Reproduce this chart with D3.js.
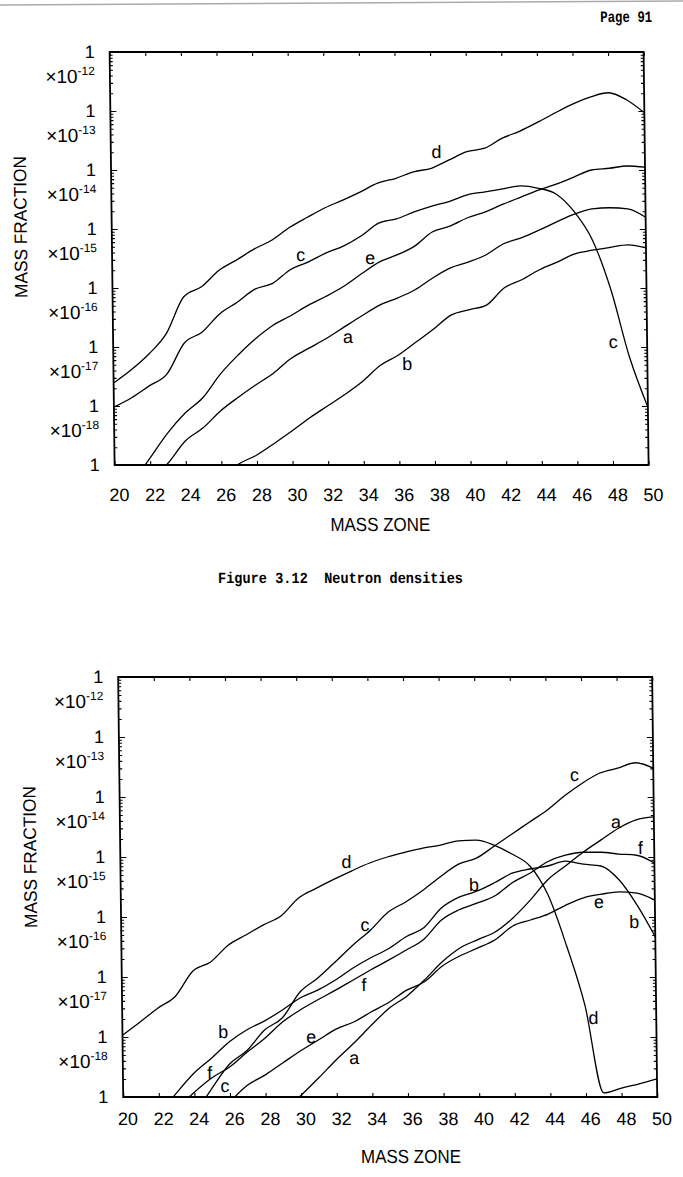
<!DOCTYPE html>
<html>
<head>
<meta charset="utf-8">
<script src="https://cdn.jsdelivr.net/npm/d3@7"></script>
<style>
  body { margin: 0; background: #fff; }
  svg { display: block; }
</style>
</head>
<body>
<svg id="page" width="683" height="1177"></svg>
<script>
// mass zones on the x axis
const zones = [20, 21, 22, 23, 24, 25, 26, 27, 28, 29, 30, 31, 32, 33, 34, 35, 36, 37, 38, 39, 40,
  41, 42, 43, 44, 45, 46, 47, 48, 49, 50];
const xTicks = [20, 22, 24, 26, 28, 30, 32, 34, 36, 38, 40, 42, 44, 46, 48, 50];
const decades = [1e-12, 1e-13, 1e-14, 1e-15, 1e-16, 1e-17, 1e-18, 1e-19];
const expLabels = ["-12", "-13", "-14", "-15", "-16", "-17", "-18"];

// Figure 3.12 (top) - neutron densities, one value per zone (null = off the plot)
const topA = [null, null, 5.37e-20, 1.07e-19, 2.57e-19, 4.27e-19, 8.32e-19, 1.41e-18, 2.29e-18, 3.63e-18,
  6.46e-18, 9.55e-18, 1.41e-17, 2.19e-17, 3.39e-17, 5.13e-17, 6.76e-17, 9.33e-17, 1.48e-16, 2.19e-16,
  2.75e-16, 3.63e-16, 5.62e-16, 7.08e-16, 9.55e-16, 1.32e-15, 1.78e-15, 2.19e-15, 2.29e-15, 2.19e-15, 1.58e-15];
const topB = [null, null, null, null, null, null, 6.31e-20, 1.05e-19, 1.48e-19, 2.34e-19,
  3.80e-19, 6.31e-19, 1.0e-18, 1.58e-18, 2.63e-18, 4.90e-18, 7.24e-18, 1.20e-17, 2.0e-17, 3.47e-17,
  4.27e-17, 5.13e-17, 1.0e-16, 1.38e-16, 2.04e-16, 2.75e-16, 3.80e-16, 4.37e-16, 4.90e-16, 5.37e-16, 4.79e-16];
const topC = [9.55e-19, 1.38e-18, 2.19e-18, 3.47e-18, 1.17e-17, 1.78e-17, 3.63e-17, 5.75e-17, 9.55e-17, 1.20e-16,
  2.04e-16, 2.75e-16, 3.89e-16, 5.13e-16, 7.59e-16, 1.26e-15, 1.48e-15, 1.95e-15, 2.45e-15, 2.95e-15,
  3.80e-15, 4.27e-15, 4.79e-15, 5.37e-15, 4.90e-15, 3.89e-15, 1.95e-15, 6.46e-16, 9.33e-17, 6.76e-18, 9.55e-19];
const topD = [2.45e-18, 4.1e-18, 7.6e-18, 1.7e-17, 7.1e-17, 1.05e-16, 2.0e-16, 3.0e-16, 4.6e-16, 6.5e-16,
  1.07e-15, 1.58e-15, 2.29e-15, 3.09e-15, 4.27e-15, 6.03e-15, 7.24e-15, 9.33e-15, 1.07e-14, 1.48e-14,
  2.04e-14, 2.34e-14, 3.47e-14, 4.57e-14, 6.46e-14, 9.33e-14, 1.32e-13, 1.74e-13, 2.04e-13, 1.55e-13, 9.33e-14];
const topE = [null, 5.01e-20, 1.32e-19, 3.47e-19, 7.59e-19, 1.38e-18, 3.47e-18, 7.24e-18, 1.38e-17, 2.34e-17,
  3.39e-17, 5.13e-17, 7.24e-17, 1.07e-16, 1.74e-16, 2.75e-16, 3.63e-16, 5.13e-16, 8.91e-16, 1.12e-15,
  1.55e-15, 1.95e-15, 2.63e-15, 3.47e-15, 4.57e-15, 5.75e-15, 7.59e-15, 1.0e-14, 1.07e-14, 1.17e-14, 1.12e-14];

// second figure (bottom)
const botA = [null, null, null, null, null, null, null, null, null, 5.62e-20,
  1.07e-19, 2.09e-19, 4.17e-19, 7.94e-19, 1.58e-18, 3.02e-18, 4.79e-18, 8.91e-18, 1.78e-17, 3.02e-17,
  4.17e-17, 5.62e-17, 9.55e-17, 1.91e-16, 4.17e-16, 7.08e-16, 1.20e-15, 1.91e-15, 3.02e-15, 4.17e-15, 4.68e-15];
const botB = [null, null, 5.01e-20, 1.17e-19, 2.51e-19, 4.47e-19, 8.32e-19, 1.32e-18, 1.86e-18, 2.82e-18,
  4.47e-18, 6.03e-18, 8.91e-18, 1.41e-17, 2.09e-17, 2.95e-17, 4.68e-17, 6.61e-17, 1.41e-16, 2.14e-16,
  2.69e-16, 3.72e-16, 5.37e-16, 6.31e-16, 7.08e-16, 8.51e-16, 7.59e-16, 7.08e-16, 4.17e-16, 1.58e-16, 4.68e-17];
const botC = [null, null, null, null, 5.01e-20, 1.41e-19, 3.55e-19, 6.03e-19, 1.32e-18, 2.09e-18,
  5.62e-18, 9.55e-18, 1.78e-17, 3.39e-17, 6.03e-17, 1.20e-16, 1.78e-16, 2.82e-16, 4.79e-16, 7.59e-16,
  9.55e-16, 1.51e-15, 2.40e-15, 3.80e-15, 6.03e-15, 1.05e-14, 1.70e-14, 2.51e-14, 3.02e-14, 3.72e-14, 3.02e-14];
const botD = [1.07e-18, 1.78e-18, 3.02e-18, 4.79e-18, 1.26e-17, 1.78e-17, 3.39e-17, 5.01e-17, 7.41e-17, 1.05e-16,
  2.09e-16, 3.02e-16, 4.27e-16, 5.89e-16, 7.94e-16, 1.0e-15, 1.20e-15, 1.41e-15, 1.58e-15, 1.86e-15,
  1.91e-15, 1.58e-15, 1.12e-15, 7.08e-16, 2.34e-16, 3.39e-17, 3.39e-18, 1.17e-19, 1.41e-19, 1.66e-19, 2.00e-19];
const botE = [null, null, null, null, null, null, 8.32e-20, 1.58e-19, 2.34e-19, 3.72e-19,
  5.89e-19, 8.91e-19, 1.35e-18, 1.78e-18, 2.63e-18, 3.80e-18, 6.03e-18, 8.32e-18, 1.51e-17, 2.24e-17,
  3.02e-17, 4.17e-17, 7.08e-17, 8.91e-17, 1.12e-16, 1.58e-16, 2.09e-16, 2.40e-16, 2.63e-16, 2.51e-16, 1.91e-16];
const botF = [null, null, null, 6.31e-20, 1.20e-19, 2.09e-19, 3.16e-19, 5.62e-19, 9.55e-19, 1.78e-18,
  2.82e-18, 4.17e-18, 6.03e-18, 8.91e-18, 1.32e-17, 1.91e-17, 2.82e-17, 4.27e-17, 8.91e-17, 1.32e-16,
  1.70e-16, 2.24e-16, 3.72e-16, 5.37e-16, 8.32e-16, 1.07e-15, 1.20e-15, 1.20e-15, 1.12e-15, 1.07e-15, 7.94e-16];

// curve labels: [text, zone, mass fraction]
const topLabels = [["d", 38.3, 2.0e-14], ["c", 30.6, 3.6e-16], ["e", 34.5, 3.2e-16],
  ["a", 33.2, 1.5e-17], ["b", 36.5, 5.1e-18], ["c", 48.1, 1.2e-17]];
const botLabels = [["d", 32.7, 8.3e-16], ["c", 33.7, 7.4e-17], ["f", 33.6, 7.4e-18], ["b", 39.85, 3.4e-16],
  ["e", 30.6, 1.0e-18], ["a", 33.0, 4.5e-19], ["b", 25.66, 1.2e-18], ["f", 24.88, 2.5e-19],
  ["c", 25.72, 1.5e-19], ["c", 45.57, 2.3e-14], ["a", 47.87, 3.8e-15], ["f", 49.22, 1.4e-15],
  ["e", 46.86, 1.8e-16], ["b", 48.83, 8.3e-17], ["d", 46.47, 2.1e-18]];

const FONT = "'Liberation Sans', Arial, sans-serif";
const MONO = "'Liberation Mono', 'DejaVu Sans Mono', monospace";
const svg = d3.select("#page");
svg.append("rect").attr("width", 683).attr("height", 1177).attr("fill", "#fff");

// scan edge at the top of the page
svg.append("line").attr("x1", 0).attr("y1", 5).attr("x2", 683).attr("y2", 1)
  .attr("stroke", "#aaa").attr("stroke-width", 1.5);

// the scanned page leans a little: lower parts sit further right
const page = svg.append("g").attr("transform", "skewX(0.69)");

page.append("text").attr("x", 652).attr("y", 22).attr("text-anchor", "end")
  .attr("font-family", MONO).attr("font-weight", "bold").attr("font-size", 16)
  .attr("textLength", 52).attr("lengthAdjust", "spacingAndGlyphs")
  .text("Page 91");

function drawChart(box, series, labels, opt) {
  const x = d3.scaleLinear().domain([20, 50]).range([box.left, box.right]);
  const y = d3.scaleLog().domain([1e-19, 1e-12]).range([box.bottom, box.top]);
  const g = page.append("g");

  const clipId = "clip" + box.top;
  g.append("clipPath").attr("id", clipId).append("rect")
    .attr("x", box.left).attr("y", box.top)
    .attr("width", box.right - box.left).attr("height", box.bottom - box.top);

  const tidy = (sel) => {
    sel.select(".domain").remove();
    sel.selectAll("line").attr("stroke", "#000").attr("stroke-width", 1.1);
  };

  // x ticks, inward on both sides
  g.append("g").attr("transform", `translate(0,${box.bottom})`)
    .call(d3.axisBottom(x).tickValues(xTicks).tickSize(-4).tickPadding(opt.xPad).tickFormat(d3.format("d")))
    .call(tidy)
    .call((a) => a.selectAll("text").attr("x", 4).attr("font-family", FONT).attr("font-size", 18).attr("fill", "#000"));
  g.append("g").attr("transform", `translate(0,${box.top})`)
    .call(d3.axisTop(x).tickValues(xTicks).tickSize(-4).tickFormat(""))
    .call(tidy);

  // log ticks, inward on left and right
  const allTicks = y.ticks();
  g.append("g").attr("transform", `translate(${box.left},0)`)
    .call(d3.axisLeft(y).tickValues(allTicks).tickSize(-3).tickFormat("")).call(tidy);
  g.append("g").attr("transform", `translate(${box.left},0)`)
    .call(d3.axisLeft(y).tickValues(decades).tickSize(-6).tickFormat("")).call(tidy);
  g.append("g").attr("transform", `translate(${box.right},0)`)
    .call(d3.axisRight(y).tickValues(allTicks).tickSize(-3).tickFormat("")).call(tidy);
  g.append("g").attr("transform", `translate(${box.right},0)`)
    .call(d3.axisRight(y).tickValues(decades).tickSize(-6).tickFormat("")).call(tidy);

  // frame
  g.append("rect").attr("x", box.left).attr("y", box.top)
    .attr("width", box.right - box.left).attr("height", box.bottom - box.top)
    .attr("fill", "none").attr("stroke", "#000").attr("stroke-width", 1.8);

  // y labels: "1" at each decade, "x10^-n" underneath
  const lab = g.append("g").attr("font-family", FONT).attr("fill", "#000").attr("text-anchor", "end");
  lab.selectAll("text.one").data(decades).join("text").attr("class", "one")
    .attr("x", box.left - 15).attr("y", (d) => y(d) + 6).attr("font-size", 18).text("1");
  const ex = lab.selectAll("text.ex").data(expLabels).join("text").attr("class", "ex")
    .attr("x", box.left - 15).attr("y", (d, i) => y(decades[i]) + 31).attr("font-size", 19);
  ex.append("tspan").text("\u00d710");
  ex.append("tspan").attr("dy", -8).attr("font-size", 12).text((d) => d);

  // curves
  const line = d3.line()
    .defined((d) => d[1] != null)
    .x((d) => x(d[0]))
    .y((d) => y(d[1]))
    .curve(d3.curveMonotoneX);
  g.append("g").attr("clip-path", `url(#${clipId})`)
    .selectAll("path").data(series).join("path")
    .attr("d", (s) => line(zones.map((z, i) => [z, s[i]])))
    .attr("fill", "none").attr("stroke", "#000").attr("stroke-width", 1.3);

  g.append("g").attr("font-family", FONT).attr("font-size", 18).attr("text-anchor", "middle")
    .selectAll("text").data(labels).join("text")
    .attr("x", (d) => x(d[1])).attr("y", (d) => y(d[2])).attr("dy", "0.33em")
    .text((d) => d[0]);

  // axis titles
  g.append("text").attr("x", opt.xTitle).attr("y", box.bottom + 66)
    .attr("text-anchor", "middle").attr("font-family", FONT).attr("font-size", 19)
    .attr("textLength", 100).attr("lengthAdjust", "spacingAndGlyphs").text("MASS ZONE");
  g.append("text").attr("transform", `translate(${opt.yTitleX},${opt.yTitleY}) rotate(-90)`)
    .attr("text-anchor", "middle").attr("font-family", FONT).attr("font-size", 18)
    .attr("textLength", 142).attr("lengthAdjust", "spacingAndGlyphs").text("MASS FRACTION");
}

drawChart({ left: 109, right: 643, top: 52, bottom: 465 },
  [topA, topB, topC, topD, topE], topLabels,
  { xPad: 23, xTitle: 374, yTitleX: 24, yTitleY: 227 });

page.append("text").attr("x", 211).attr("y", 583)
  .attr("font-family", MONO).attr("font-weight", "bold").attr("font-size", 15.5)
  .attr("textLength", 245).attr("lengthAdjust", "spacingAndGlyphs")
  .style("white-space", "pre").text("Figure 3.12  Neutron densities");

drawChart({ left: 110, right: 644, top: 677, bottom: 1097 },
  [botA, botB, botC, botD, botE, botF], botLabels,
  { xPad: 15, xTitle: 397, yTitleX: 26, yTitleY: 857 });
</script>
</body>
</html>
